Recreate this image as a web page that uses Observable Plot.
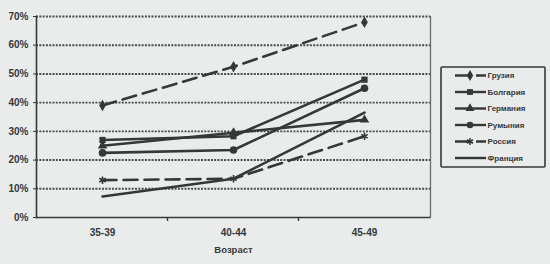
<!DOCTYPE html>
<html><head><meta charset="utf-8">
<script src="https://cdn.jsdelivr.net/npm/d3@7"></script>
<script src="https://cdn.jsdelivr.net/npm/@observablehq/plot@0.6"></script>
<style>
html,body{margin:0;padding:0;background:#e9eceb;}
#chart svg{display:block;}
</style></head><body><div id="chart"></div>
<script>
// ---- data ----
const categories = ["35-39", "40-44", "45-49"];
const seriesNames = ["Грузия", "Болгария", "Германия", "Румыния", "Россия", "Франция"];
const georgia  = [39, 52.5, 68];
const bulgaria = [27, 28.3, 48];
const germany  = [25, 29.5, 34];
const romania  = [22.5, 23.5, 45];
const russia   = [13, 13.5, 28.3];
const france   = [7.3, 13.5, 36.5];
const yTicks = [0, 10, 20, 30, 40, 50, 60, 70];
const xTitle = "Возраст";

const seriesValues = [georgia, bulgaria, germany, romania, russia, france];
// style per series (not data)
const seriesStyle = {
  "Грузия":   {dash: "14,7", symbol: "diamond"},
  "Болгария": {dash: null,   symbol: "square"},
  "Германия": {dash: null,   symbol: "triangle"},
  "Румыния":  {dash: null,   symbol: "circle"},
  "Россия":   {dash: "14,7", symbol: "asterisk"},
  "Франция":  {dash: null,   symbol: null}
};

const rows = [];
seriesNames.forEach((s, i) => categories.forEach((c, j) => rows.push({series: s, cat: c, value: seriesValues[i][j]})));

const ink = "#363838";
const font = "'Liberation Sans', Arial, sans-serif";

const marks = [
  Plot.ruleY(yTicks.filter(t => t > 0), {stroke: "#4a4c4c", strokeWidth: 1.9, strokeDasharray: "2,1.3"}),
  Plot.frame({anchor: "left", stroke: ink, strokeWidth: 1.6}),
  Plot.frame({anchor: "right", stroke: "#6a6c6c", strokeWidth: 1.3}),
  Plot.ruleY([0], {stroke: ink, strokeWidth: 1.6}),
  Plot.axisY({ticks: yTicks, tickFormat: d => d + "%", tickSize: 3, tickPadding: 5, fontWeight: "bold", fontSize: 10, label: null, stroke: ink}),
  Plot.axisX({tickSize: 0, tickPadding: 11, fontWeight: "bold", fontSize: 10, label: null}),
  Plot.text([xTitle], {frameAnchor: "bottom", dy: 35, fontWeight: "bold", fontSize: 9.5, fill: ink})
];
seriesNames.forEach(s => {
  const st = seriesStyle[s];
  const data = rows.filter(r => r.series === s);
  marks.push(Plot.line(data, {x: "cat", y: "value", stroke: ink, strokeWidth: 2.6, strokeDasharray: st.dash || undefined}));
  if (st.symbol) {
    const stroke = st.symbol === "asterisk";
    marks.push(Plot.dot(data, {x: "cat", y: "value", symbol: st.symbol, r: st.symbol === "circle" ? 3.8 : 3.5,
      fill: stroke ? "none" : ink, stroke: stroke ? ink : "none", strokeWidth: stroke ? 1.6 : 0}));
  }
});

const chart = Plot.plot({
  width: 550, height: 264,
  marginLeft: 36, marginRight: 120, marginTop: 16, marginBottom: 47,
  style: {background: "#e9eceb", fontFamily: font, color: ink},
  x: {type: "point", domain: categories, padding: 0.5, label: null},
  y: {domain: [0, 70], label: null},
  marks
});
document.getElementById("chart").appendChild(chart);

// boundary ticks on the x axis, from the x scale
const svg = d3.select(chart);
const xs = chart.scale("x");
const ys = chart.scale("y");
const pos = categories.map(c => xs.apply(c));
const y0 = ys.apply(0);
for (let i = 0; i < pos.length - 1; i++) {
  const bx = (pos[i] + pos[i + 1]) / 2;
  svg.append("line").attr("x1", bx).attr("x2", bx).attr("y1", y0).attr("y2", y0 + 4)
    .attr("stroke", ink).attr("stroke-width", 1.4);
}

// legend
const lg = svg.append("g").attr("font-family", font).attr("font-size", 8).attr("font-weight", "bold")
  .attr("fill", ink).attr("text-anchor", "start");
lg.append("rect").attr("x", 441).attr("y", 67).attr("width", 104).attr("height", 100)
  .attr("fill", "none").attr("stroke", ink).attr("stroke-width", 1.6).attr("rx", 1);
const symMap = {diamond: d3.symbolDiamond, square: d3.symbolSquare, triangle: d3.symbolTriangle, circle: d3.symbolCircle, asterisk: d3.symbolAsterisk};
seriesNames.forEach((s, i) => {
  const st = seriesStyle[s];
  const yy = 75.5 + i * 16.5;
  lg.append("line").attr("x1", 455).attr("x2", 486).attr("y1", yy).attr("y2", yy)
    .attr("stroke", ink).attr("stroke-width", 2.4).attr("stroke-dasharray", st.dash || null);
  if (st.symbol) {
    const stroke = st.symbol === "asterisk";
    lg.append("path").attr("d", d3.symbol(symMap[st.symbol], Math.PI * 11)())
      .attr("transform", `translate(470,${yy})`)
      .attr("fill", stroke ? "none" : ink).attr("stroke", stroke ? ink : "none").attr("stroke-width", 1.5);
  }
  lg.append("text").attr("x", 487.5).attr("y", yy).attr("dy", "0.35em").text(s);
});
</script></body></html>
